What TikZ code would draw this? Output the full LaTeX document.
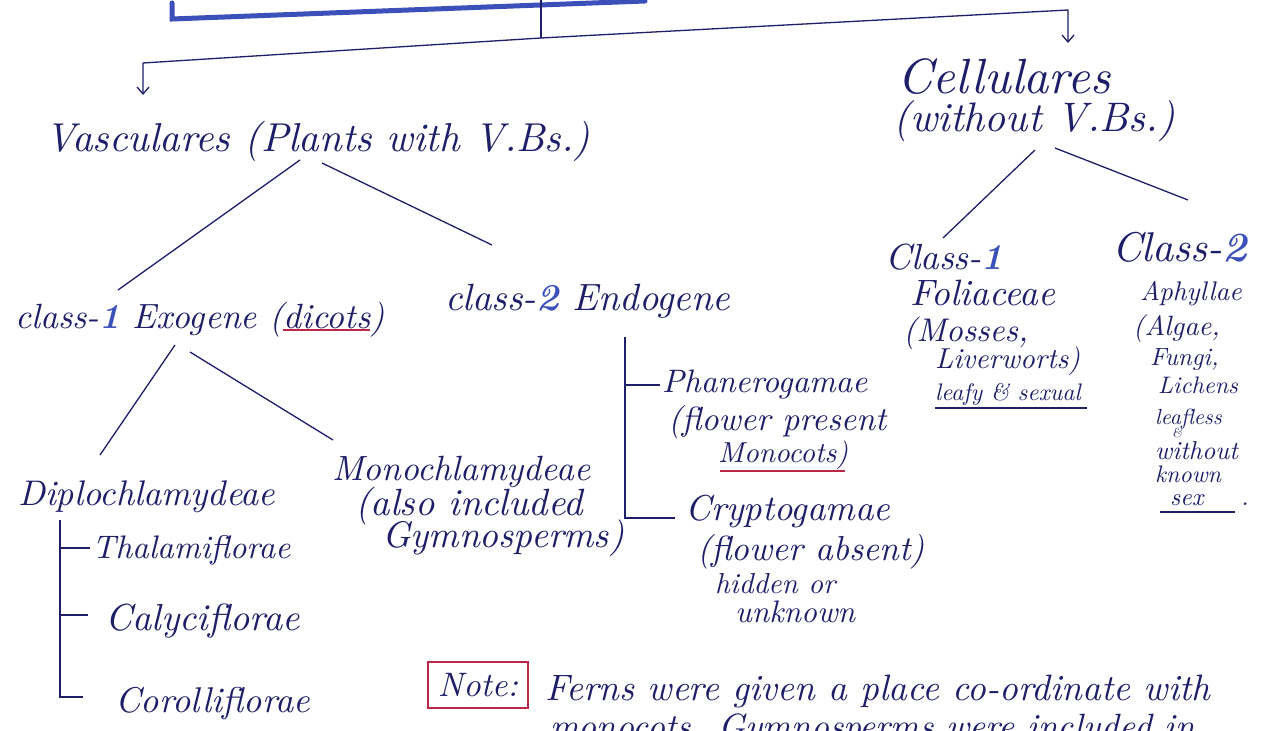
\documentclass[tikz,border=0pt]{standalone}
\usetikzlibrary{arrows.meta,calc}
\definecolor{ink}{RGB}{30,30,105}
\definecolor{marker}{RGB}{60,80,185}
\definecolor{redink}{RGB}{185,40,70}
\newcommand\hw[2]{\resizebox{#1bp}{!}{\itshape #2}}
\newcommand\hs[2]{\scalebox{#1}{\itshape #2}}
\newcommand\mk[1]{{\bfseries\color{marker}#1}}
\begin{document}
\begin{tikzpicture}[x=1bp,y=-1bp,
  every node/.style={inner sep=0pt,anchor=base west,text=ink},
  line/.style={draw=ink,line width=1.3bp},
  arr/.style={line,-{Straight Barb[length=7bp,width=12bp]}},
  redline/.style={draw=redink,line width=2.5bp},
  notebox/.style={draw=redink,line width=1.6bp,anchor=center,minimum width=100bp,minimum height=46bp}]
\useasboundingbox[fill=white] (0,0) rectangle (1263,731);

% ---- nodes ----
\node (vasc) at (45,152) {\hw{545}{Vasculares (Plants with V.Bs.)}};
\node (cell) at (897,94) {\hw{213}{Cellulares}};
\node (cellb) at (893,132) {\hw{282}{(without V.Bs.)}};

\node (exo) at (15,328) {\hw{370}{class-\mk{1} Exogene (dicots)}};
\node (endo) at (445,310) {\hw{285}{class-\mk{2} Endogene}};

\node (diplo) at (18,505) {\hw{257}{Diplochlamydeae}};
\node (thal) at (92,558) {\hw{198}{Thalamiflorae}};
\node (caly) at (105,630) {\hw{195}{Calyciflorae}};
\node (coro) at (115,712) {\hw{195}{Corolliflorae}};

\node (mono) at (332,480) {\hw{258}{Monochlamydeae}};
\node (monob) at (355,515) {\hw{228}{(also included}};
\node (monoc) at (382,547) {\hw{242}{Gymnosperms)}};

\node (phan) at (662,392) {\hw{205}{Phanerogamae}};
\node (phanb) at (668,430) {\hw{218}{(flower present}};
\node (phanc) at (718,462) {\hw{130}{Monocots)}};

\node (cryp) at (685,520) {\hw{205}{Cryptogamae}};
\node (crypb) at (697,560) {\hw{228}{(flower absent)}};
\node (crypc) at (715,593) {\hw{120}{hidden or}};
\node (crypd) at (735,622) {\hw{120}{unknown}};

\node (fol) at (885,270) {\hw{118}{Class-\mk{1}}};
\node (folb) at (910,305) {\hw{145}{Foliaceae}};
\node (folc) at (903,341) {\hw{125}{(Mosses,}};
\node (fold) at (935,368) {\hw{145}{Liverworts)}};
\node (fole) at (935,400) {\hs{2.4}{leafy \& sexual}};

\node (aph) at (1112,262) {\hw{135}{Class-\mk{2}}};
\node (aphb) at (1140,300) {\hs{2.7}{Aphyllae}};
\node (aphc) at (1133,335) {\hs{2.8}{(Algae,}};
\node (aphd) at (1150,365) {\hs{2.5}{Fungi,}};
\node (aphe) at (1158,393) {\hs{2.4}{Lichens}};
\node (aphf) at (1155,424) {\hs{2.2}{leafless}};
\node (aphg) at (1172,437) {\hs{1.3}{\&}};
\node (aphh) at (1155,459) {\hs{2.6}{without}};
\node (aphi) at (1155,482) {\hs{2.4}{known}};
\node (aphj) at (1170,505) {\hs{2.5}{sex}};
\node (aphk) at (1241,505) {\hs{2.5}{.}};

\node[notebox] (note) at (478,685) {\hw{80}{Note:}};
\node (notea) at (545,700) {\hw{665}{Ferns were given a place co-ordinate with}};
\node (noteb) at (550,738) {\hw{645}{monocots. Gymnosperms were included in}};

% ---- top structure ----
\coordinate (top) at (541,0);
\coordinate (j) at (541,38);
\coordinate (lc) at (143,63);
\coordinate (rc) at (1068,10);
\draw[draw=marker,line width=5bp,line cap=round] (172,3) -- (172,19) -- (645,1);
\draw[line] (top) -- (j);
\draw[arr] (j) -- (lc) -- ([shift={(98,-57)}]vasc.base west);
\draw[arr] (j) -- (rc) -- ([shift={(171,-51)}]cell.base west);

% ---- branches ----
\draw[line] ([shift={(255,8)}]vasc.base west) -- ([shift={(103,-38)}]exo.base west);
\draw[line] ([shift={(277,11)}]vasc.base west) -- ([shift={(47,-65)}]endo.base west);

\draw[line] ([shift={(142,18)}]cellb.base west) -- ([shift={(58,-32)}]fol.base west);
\draw[line] ([shift={(162,16)}]cellb.base west) -- ([shift={(76,-62)}]aph.base west);

\draw[line] ([shift={(160,17)}]exo.base west) -- ([shift={(82,-50)}]diplo.base west);
\draw[line] ([shift={(175,24)}]exo.base west) -- ([shift={(1,-40)}]mono.base west);

% Diplochlamydeae bracket
\draw[line] ([shift={(42,15)}]diplo.base west) |- ([shift={(-32,-15)}]coro.base west);
\draw[line] ([shift={(-2,-10)}]thal.base west) -- ++(-30,0);
\draw[line] ([shift={(-17,-15)}]caly.base west) -- ++(-28,0);

% Endogene bracket
\draw[line] ([shift={(180,27)}]endo.base west) |- ([shift={(-10,-2)}]cryp.base west);
\draw[line] ([shift={(-2,-7)}]phan.base west) -- ++(-35,0);

% underlines
\draw[redline] ([shift={(268,2)}]exo.base west) -- ++(87,0);
\draw[redline] ([shift={(2,9)}]phanc.base west) -- ++(125,0);
\draw[line] ([shift={(0,8)}]fole.base west) -- ++(152,0);
\draw[line] ([shift={(-10,7)}]aphj.base west) -- ++(75,0);
\end{tikzpicture}
\end{document}
